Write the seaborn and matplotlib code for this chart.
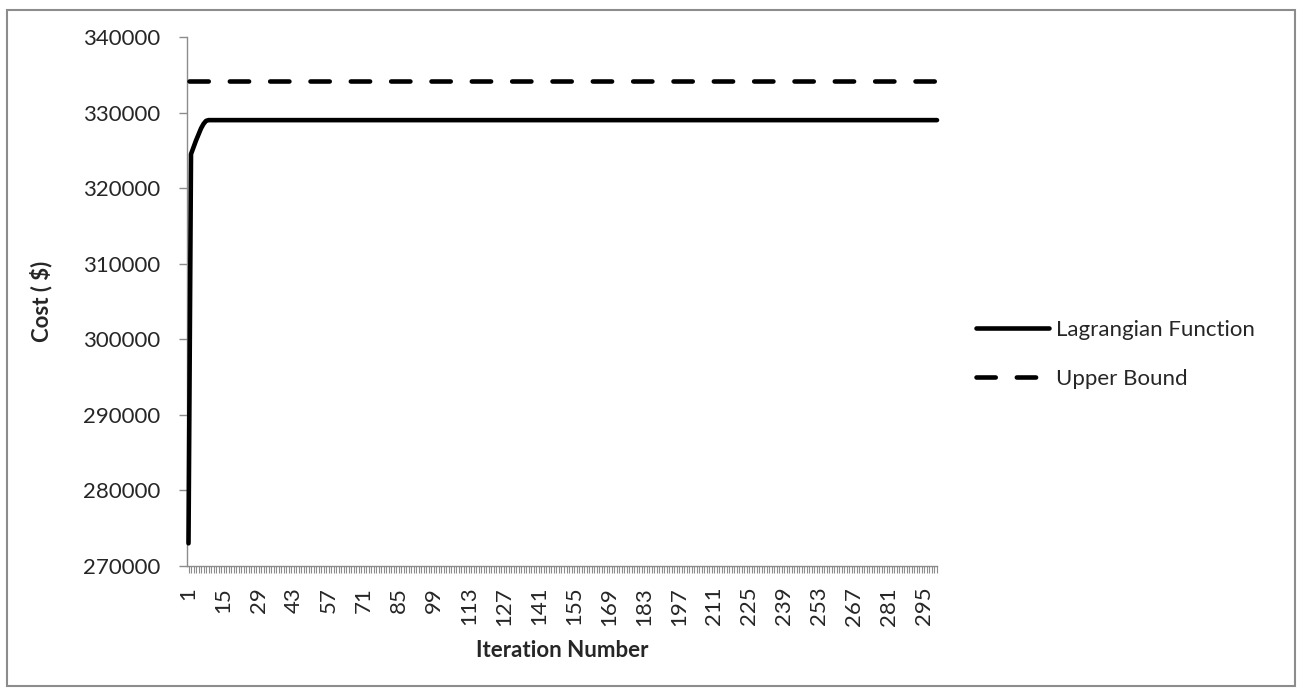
import matplotlib

matplotlib.use("Agg")
import matplotlib.pyplot as plt
import matplotlib.patches as mpatches
import numpy as np
import pandas as pd
import seaborn as sns


N_ITER = 300
ITERATIONS = list(range(1, N_ITER + 1))

LAGRANGIAN_HEAD = [273000, 324500, 325400, 326300, 327100, 327900, 328500, 328900, 329000]
LAGRANGIAN_PLATEAU = 329000
UPPER_BOUND = 334150

TICK_LABELS = list(range(1, N_ITER + 1, 14))

lagrangian = LAGRANGIAN_HEAD + [LAGRANGIAN_PLATEAU] * (N_ITER - len(LAGRANGIAN_HEAD))
upper = [UPPER_BOUND] * N_ITER

df = pd.DataFrame({
    "iteration": ITERATIONS * 2,
    "cost": lagrangian + upper,
    "series": ["Lagrangian Function"] * N_ITER + ["Upper Bound"] * N_ITER,
})

sns.set_theme(style="white")
plt.rcParams["font.family"] = ["Lato", "DejaVu Sans"]

fig = plt.figure(figsize=(13.02, 6.92), dpi=100)
ax = fig.add_axes([187 / 1302, 1 - 566 / 692, (937 - 187) / 1302, (566 - 37) / 692])

sns.lineplot(
    data=df[df["series"] == "Lagrangian Function"],
    x="iteration", y="cost", color="black", linewidth=3.3,
    label="Lagrangian Function", ax=ax,
)
sns.lineplot(
    data=df[df["series"] == "Upper Bound"],
    x="iteration", y="cost", color="black", linewidth=3.3,
    label="Upper Bound", ax=ax,
)
for line in ax.get_lines():
    line.set_solid_capstyle("round")
    line.set_solid_joinstyle("round")
    line.set_clip_on(False)
    line.set_zorder(4)
ax.get_lines()[1].set_dashes((4.2, 4.6))
ax.get_lines()[1].set_dash_capstyle("round")

ax.set_xlim(0.4, N_ITER)
ax.set_ylim(270000, 340000)
ax.set_yticks(np.arange(270000, 340001, 10000))
ax.set_xticks(TICK_LABELS)
ax.set_xticklabels([str(t) for t in TICK_LABELS], rotation=90)
ax.set_xticks(ITERATIONS, minor=True)

for side in ["top", "right"]:
    ax.spines[side].set_visible(False)
for side in ["left", "bottom"]:
    ax.spines[side].set_color("#8c8c8c")
    ax.spines[side].set_linewidth(1.0)

ax.tick_params(axis="y", which="major", direction="out", length=6, width=1,
               color="#8c8c8c", pad=13, labelsize=16, left=True)
ax.tick_params(axis="x", which="both", direction="out", length=5, width=0.8,
               color="#8c8c8c", pad=10, labelsize=16, bottom=True)
ax.grid(False)

ax.set_xlabel("Iteration Number", fontsize=16, fontweight="bold", labelpad=10)
ax.set_ylabel("Cost ( $)", fontsize=16, fontweight="bold", labelpad=22)

ax.legend(
    loc="center left", bbox_to_anchor=(1.025, 0.40), frameon=False,
    fontsize=16, handlelength=3.3, handletextpad=0.3, labelspacing=1.3,
)

fig.patches.append(mpatches.Rectangle(
    (7 / 1302, 6 / 692), 1288 / 1302, 676 / 692, transform=fig.transFigure,
    fill=False, edgecolor="#8c8c8c", linewidth=1.5,
))

fig.savefig("out.png", dpi=100)
